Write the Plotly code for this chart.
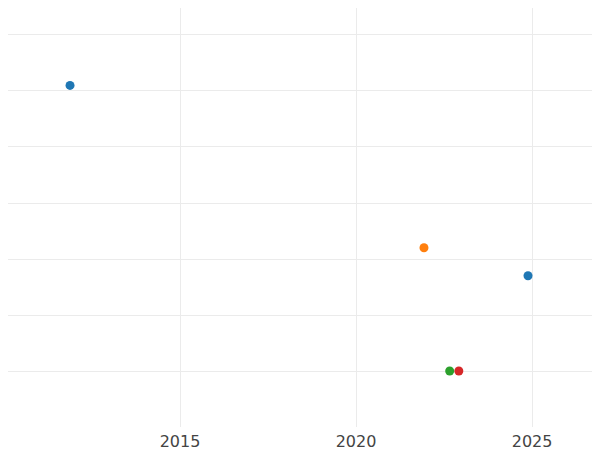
import plotly.graph_objects as go

# Data (years, unitless y values)
series_a_x = [2011.875, 2024.885]
series_a_y = [5.1, 1.7]
series_b_x = [2021.93]
series_b_y = [2.2]
series_c_x = [2022.66]
series_c_y = [0.0]
series_d_x = [2022.92]
series_d_y = [0.0]

colors = ["#1f77b4", "#ff7f0e", "#2ca02c", "#d62728"]
xs = [series_a_x, series_b_x, series_c_x, series_d_x]
ys = [series_a_y, series_b_y, series_c_y, series_d_y]

fig = go.Figure()
for x, y, c in zip(xs, ys, colors):
    fig.add_trace(go.Scatter(x=x, y=y, mode="markers",
                             marker=dict(color=c, size=9), showlegend=False))

fig.update_layout(
    width=592, height=442,
    margin=dict(l=0, r=0, t=0, b=23),
    paper_bgcolor="white", plot_bgcolor="white",
    font=dict(family="DejaVu Sans", size=16, color="#444"),
    xaxis=dict(range=[2010.1133, 2026.93], tickvals=[2015, 2020, 2025],
               showgrid=True, gridcolor="#ebebeb", gridwidth=1, zeroline=False,
               showline=False, automargin=False, ticks="", ticklabelstandoff=3),
    yaxis=dict(range=[-1, 6.482], dtick=1, tick0=0, showgrid=True,
               gridcolor="#ebebeb", gridwidth=1, zeroline=False,
               showticklabels=False, showline=False, automargin=False),
)
fig.write_html("out.html")
